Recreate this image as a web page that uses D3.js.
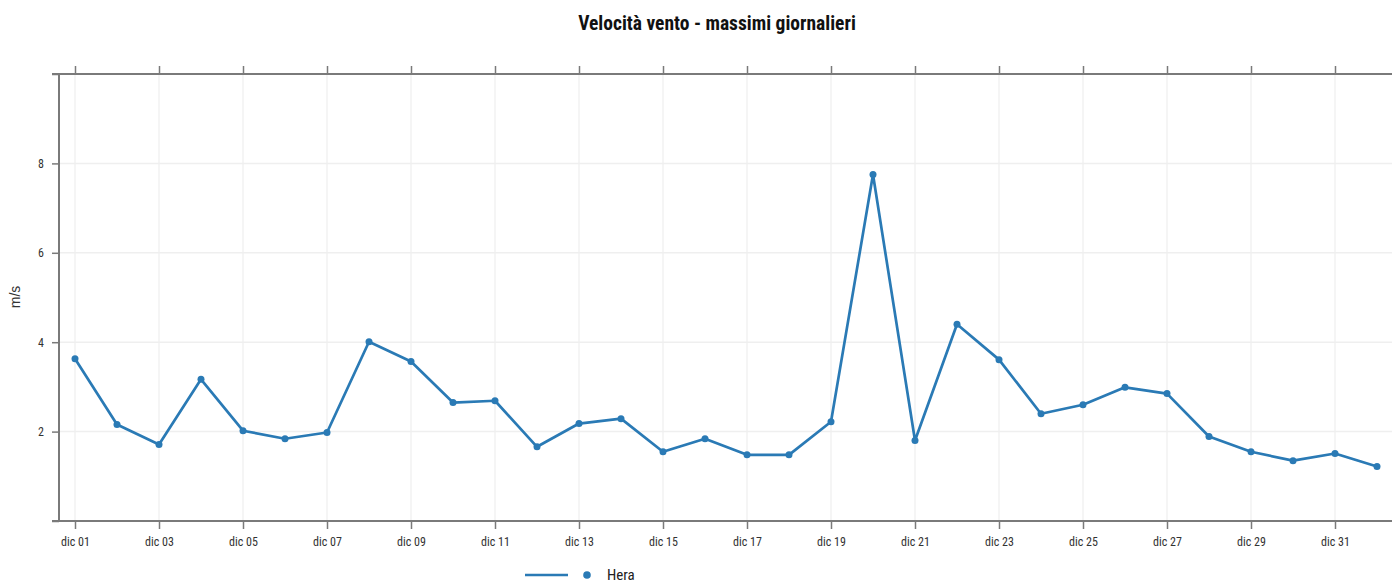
<!DOCTYPE html>
<html><head><meta charset="utf-8">
<script src="https://cdn.jsdelivr.net/npm/d3@7"></script>
<style>body{margin:0;background:#fff}svg{display:block}</style>
</head><body>
<script>
const title = "Velocità vento - massimi giornalieri";
const yLabel = "m/s";
const seriesName = "Hera";
const dates = ["2023-12-01","2023-12-02","2023-12-03","2023-12-04","2023-12-05","2023-12-06","2023-12-07","2023-12-08","2023-12-09","2023-12-10","2023-12-11","2023-12-12","2023-12-13","2023-12-14","2023-12-15","2023-12-16","2023-12-17","2023-12-18","2023-12-19","2023-12-20","2023-12-21","2023-12-22","2023-12-23","2023-12-24","2023-12-25","2023-12-26","2023-12-27","2023-12-28","2023-12-29","2023-12-30","2023-12-31","2024-01-01"];
const values = [3.63,2.16,1.71,3.17,2.02,1.84,1.98,4.01,3.57,2.65,2.69,1.66,2.18,2.29,1.55,1.84,1.48,1.48,2.22,7.75,1.80,4.40,3.61,2.40,2.60,2.99,2.85,1.89,1.55,1.35,1.51,1.22];
const yTicks = [0,2,4,6,8,10];
const yTickLabels = ["","2","4","6","8",""];
const monthAbbr = ["gen","feb","mar","apr","mag","giu","lug","ago","set","ott","nov","dic"];

(function(){
const W = 1392, H = 583;
const font = "'Liberation Sans Narrow','Arial Narrow','Roboto Condensed',sans-serif";
const parse = d3.utcParse("%Y-%m-%d");
const data = dates.map((d,i)=>({date:parse(d), v:values[i]}));
const day = 86400000;
const d0 = data[0].date.getTime();
const mL = 59, mR = W, mT = 74, mB = 521;
const x = d3.scaleUtc()
  .domain([new Date(d0 - (75-mL)/42*day), new Date(d0 + (mR-75)/42*day)])
  .range([mL, mR]);
const y = d3.scaleLinear().domain([0,10]).range([mB, mT]);
const xTicks = d3.range(0,31,2).map(i=>new Date(d0 + i*day));
const fmt = d => monthAbbr[d.getUTCMonth()] + " " + String(d.getUTCDate()).padStart(2,"0");

const svg = d3.select("body").append("svg").attr("width",W).attr("height",H);

svg.append("g").selectAll("line").data(xTicks).join("line")
  .attr("x1",d=>x(d)).attr("x2",d=>x(d)).attr("y1",mT).attr("y2",mB)
  .attr("stroke","#ebebeb").attr("stroke-width",1);
svg.append("g").selectAll("line").data(yTicks.slice(1,-1)).join("line")
  .attr("x1",mL).attr("x2",mR).attr("y1",d=>y(d)).attr("y2",d=>y(d))
  .attr("stroke","#efefef").attr("stroke-width",1.5);

const axisColor = "#7a7a7a";
const gx = svg.append("g").attr("transform",`translate(0,${mB})`)
  .call(d3.axisBottom(x).tickValues(xTicks).tickFormat(fmt).tickSize(8).tickPadding(8));
gx.select(".domain").remove();
gx.append("line").attr("x1",52).attr("x2",mR).attr("stroke",axisColor).attr("stroke-width",2);
const gxt = svg.append("g").attr("transform",`translate(0,${mT})`)
  .call(d3.axisTop(x).tickValues(xTicks).tickFormat("").tickSize(8));
gxt.select(".domain").remove();
gxt.append("line").attr("x1",52).attr("x2",mR).attr("stroke",axisColor).attr("stroke-width",2);
const gy = svg.append("g").attr("transform",`translate(${mL},0)`)
  .call(d3.axisLeft(y).tickValues(yTicks).tickFormat((d,i)=>yTickLabels[i]).tickSize(7).tickPadding(8));
gy.select(".domain").remove();
gy.append("line").attr("y1",mT).attr("y2",mB).attr("stroke",axisColor).attr("stroke-width",2);

[gx,gxt,gy].forEach(g=>{
  g.selectAll(".tick line").attr("stroke",axisColor).attr("stroke-width",1.5);
  g.selectAll(".tick text").attr("fill","#333").style("font-family",font).style("font-size","12px");
});

svg.append("text").attr("transform","translate(20,297) rotate(-90)")
  .attr("text-anchor","middle").style("font-family","'Liberation Sans',Arial,sans-serif").style("font-size","14px")
  .attr("fill","#333").text(yLabel);

svg.append("text").attr("x",717).attr("y",30).attr("text-anchor","middle")
  .style("font-family",font).style("font-size","19.5px").style("font-weight","bold").attr("fill","#111").text(title);

const color = "#2a7ab5";
svg.append("path").datum(data)
  .attr("d", d3.line().x(d=>x(d.date)).y(d=>y(d.v)))
  .attr("fill","none").attr("stroke",color).attr("stroke-width",2.7).attr("stroke-linejoin","round");
svg.append("g").selectAll("circle").data(data).join("circle")
  .attr("cx",d=>x(d.date)).attr("cy",d=>y(d.v)).attr("r",3.5).attr("fill",color);

const lg = svg.append("g");
lg.append("line").attr("x1",525).attr("x2",568).attr("y1",575).attr("y2",575).attr("stroke",color).attr("stroke-width",2.6);
lg.append("circle").attr("cx",587).attr("cy",575).attr("r",3.8).attr("fill",color);
lg.append("text").attr("x",607).attr("y",580).style("font-family",font).style("font-size","15px").attr("fill","#222").text(seriesName);
})();
</script>
</body></html>
